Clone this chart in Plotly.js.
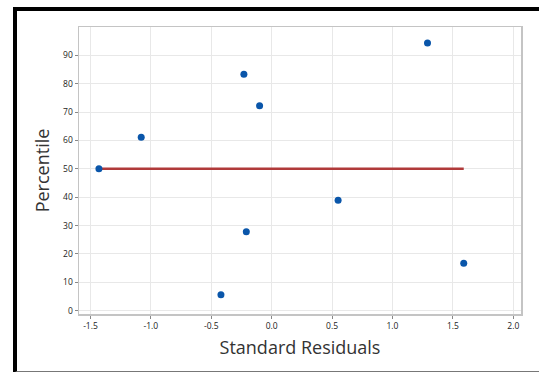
<!DOCTYPE html>
<html>
<head>
<meta charset="utf-8">
<script src="https://cdn.plot.ly/plotly-3.0.1.min.js"></script>
<style>
html,body{margin:0;padding:0;background:#fff;}
#wrap{position:relative;width:539px;height:372px;overflow:hidden;}
#chart{position:absolute;left:0;top:0;width:539px;height:372px;}
#frame{position:absolute;left:13px;top:7px;width:522px;height:360px;border-top:4px solid #000;border-left:4px solid #000;border-bottom:2px solid #777;pointer-events:none;}
</style>
</head>
<body>
<div id="wrap"><div id="chart"></div><div id="frame"></div></div>
<script>
// Data
const residuals = [-1.43, -1.08, -0.23, -0.10, 1.29, 0.55, -0.21, -0.42, 1.59];
const percentiles = [50.0, 61.1, 83.3, 72.2, 94.4, 38.9, 27.8, 5.6, 16.7];
const fitX = [-1.43, 1.59];
const fitY = [50, 50];
const xTickVals = [-1.5, -1.0, -0.5, 0.0, 0.5, 1.0, 1.5, 2.0];
const xTickText = ["-1.5", "-1.0", "-0.5", "0.0", "0.5", "1.0", "1.5", "2.0"];
const yTickVals = [0, 10, 20, 30, 40, 50, 60, 70, 80, 90];
const yTickText = ["0", "10", "20", "30", "40", "50", "60", "70", "80", "90"];

const font = "'Open Sans', 'Noto Sans', sans-serif";

const traces = [
  {
    x: fitX, y: fitY, type: 'scatter', mode: 'lines',
    line: {color: '#b03a3a', width: 2.5},
    hoverinfo: 'skip', showlegend: false
  },
  {
    x: residuals, y: percentiles, type: 'scatter', mode: 'markers',
    marker: {color: '#0a56aa', size: 7},
    showlegend: false
  }
];

const axisCommon = {
  showgrid: true, gridcolor: '#e8e8e8', gridwidth: 1,
  zeroline: false,
  showline: true, linecolor: '#c4c4c4', linewidth: 1.5, mirror: true,
  ticks: 'outside', ticklen: 3, tickcolor: '#888', tickwidth: 1,
  tickfont: {family: font, size: 8.5, color: '#222'}
};

const layout = {
  width: 539, height: 372,
  margin: {l: 79, r: 18, t: 27, b: 58},
  paper_bgcolor: '#fff', plot_bgcolor: '#fff',
  xaxis: Object.assign({}, axisCommon, {
    range: [-1.595, 2.064],
    tickvals: xTickVals, ticktext: xTickText,
    title: {text: 'Standard Residuals', font: {family: font, size: 18, color: '#333'}, standoff: 11}
  }),
  yaxis: Object.assign({}, axisCommon, {
    range: [-1.2, 100],
    tickvals: yTickVals, ticktext: yTickText,
    title: {text: 'Percentile', font: {family: font, size: 18, color: '#333'}, standoff: 9}
  })
};

Plotly.newPlot('chart', traces, layout, {displayModeBar: false, staticPlot: true});
</script>
</body>
</html>
